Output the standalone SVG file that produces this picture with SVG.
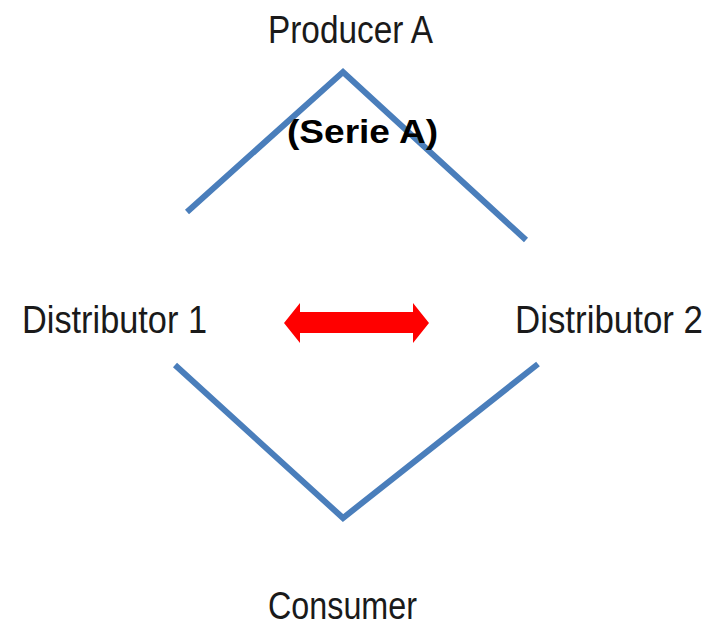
<svg xmlns="http://www.w3.org/2000/svg" width="719" height="626" viewBox="0 0 719 626">
  <style>
    .label { font-family: "Liberation Sans", Arial, sans-serif; font-size: 38px; fill: #1a1a1a; }
    .tag { font-family: "Liberation Sans", Arial, sans-serif; font-size: 34px; font-weight: bold; fill: #000; }
    .link { fill: none; stroke: #4a7ebb; stroke-width: 6; stroke-linejoin: miter; }
  </style>
  <rect width="719" height="626" fill="#fff"/>
  <g id="connectors">
    <polyline class="link" points="187,212 343,72 526,240"/>
    <polyline class="link" points="175,365 343,518 538,364"/>
    <polygon id="exchange" fill="#ff0000" points="284,323 300,303 300,312 413,312 413,303 429,323 413,343 413,333 300,333 300,343"/>
  </g>
  <g id="producer">
    <text class="label" x="268" y="43" textLength="165" lengthAdjust="spacingAndGlyphs">Producer A</text>
  </g>
  <g id="serie">
    <text class="tag" x="287" y="143" textLength="151" lengthAdjust="spacingAndGlyphs">(Serie A)</text>
  </g>
  <g id="distributor1">
    <text class="label" x="22" y="333" textLength="185" lengthAdjust="spacingAndGlyphs">Distributor 1</text>
  </g>
  <g id="distributor2">
    <text class="label" x="515" y="333" textLength="188" lengthAdjust="spacingAndGlyphs">Distributor 2</text>
  </g>
  <g id="consumer">
    <text class="label" x="268" y="619" textLength="149" lengthAdjust="spacingAndGlyphs">Consumer</text>
  </g>
</svg>
